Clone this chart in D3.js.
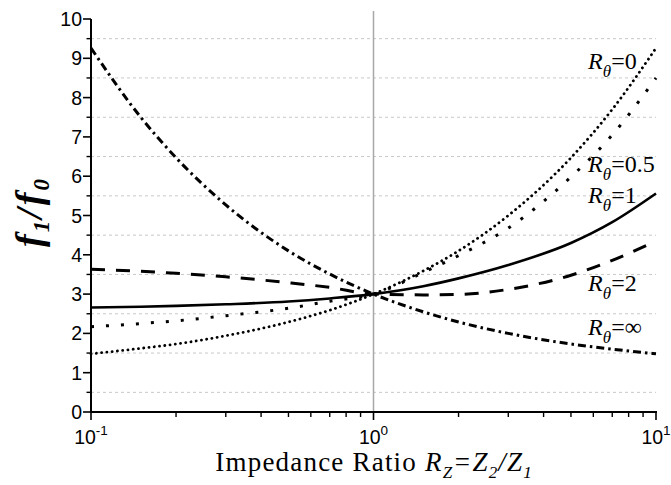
<!DOCTYPE html>
<html>
<head>
<meta charset="utf-8">
<script src="https://cdn.jsdelivr.net/npm/d3@7"></script>
</head>
<body style="margin:0">
<svg id="chart" width="671" height="485"></svg>
<script>
// Impedance ratio samples (log axis) and f1/f0 for each length ratio R_theta
const impedanceRatio = [0.1, 0.15, 0.2, 0.3, 0.5, 0.7, 1, 1.5, 2, 3, 5, 7, 10];
const ratioTheta0   = [1.48, 1.62, 1.73, 1.94, 2.29, 2.59, 3.0, 3.59, 4.10, 5.00, 6.47, 7.70, 9.26];
const ratioTheta05  = [2.17, 2.25, 2.32, 2.45, 2.64, 2.82, 3.0, 3.55, 3.98, 4.68, 5.98, 7.05, 8.50];
const ratioTheta1   = [2.66, 2.68, 2.70, 2.74, 2.81, 2.89, 3.0, 3.20, 3.40, 3.74, 4.30, 4.83, 5.56];
const ratioTheta2   = [3.63, 3.58, 3.53, 3.44, 3.29, 3.17, 3.0, 2.98, 2.99, 3.12, 3.48, 3.86, 4.35];
const ratioThetaInf = [9.26, 7.50, 6.47, 5.27, 4.10, 3.51, 3.0, 2.55, 2.29, 2.00, 1.73, 1.60, 1.48];

const xMajorTicks = [0.1, 1, 10];
const xMajorExponents = ["-1", "0", "1"];
const yTicks = [0, 1, 2, 3, 4, 5, 6, 7, 8, 9, 10];
const yHalfTicks = [0.5, 1.5, 2.5, 3.5, 4.5, 5.5, 6.5, 7.5, 8.5, 9.5];

// label text for each curve and where its label sits (x, y in data units)
const curveLabels = ["0", "0.5", "1", "2", "\u221E"];
const labelX = [5.75, 5.75, 5.75, 5.75, 5.75];
const labelY = [8.73, 6.11, 5.32, 3.09, 1.96];

const series = [
  { values: ratioTheta0,   dash: "0.1,5.2", width: 2.8, cap: "round" },
  { values: ratioTheta05,  dash: "3,12",    width: 3,   cap: "butt" },
  { values: ratioTheta1,   dash: null,      width: 2.6, cap: "butt" },
  { values: ratioTheta2,   dash: "14,11",   width: 3,   cap: "butt" },
  { values: ratioThetaInf, dash: "8,4,2.5,4", width: 3, cap: "butt" }
];

const SERIF = "\"Liberation Serif\"";
const SANS = "\"Liberation Sans\"";

const svg = d3.select("#chart");
const margin = { left: 91, right: 15, top: 19, bottom: 73 };
const W = 671, H = 485;

const x = d3.scaleLog().domain([0.1, 10]).range([margin.left, W - margin.right]);
const y = d3.scaleLinear().domain([0, 10]).range([H - margin.bottom, margin.top]);

// Lay out a run of differently styled pieces as separate <text> nodes,
// measuring each piece so they sit side by side. anchor: start|middle|end
function textRuns(parent, x0, y0, anchor, runs) {
  const g = parent.append("g");
  let cx = 0;
  runs.forEach(r => {
    const t = g.append("text")
      .attr("x", cx).attr("y", r.dy || 0)
      .style("font-family", r.family)
      .style("font-size", r.size + "px")
      .style("font-style", r.italic ? "italic" : "normal")
      .style("font-weight", r.bold ? "bold" : "normal")
      .style("letter-spacing", (r.spacing || 0) + "px")
      .text(r.text);
    cx += t.node().getComputedTextLength() + (r.gap || 0);
  });
  const shift = anchor === "middle" ? -cx / 2 : anchor === "end" ? -cx : 0;
  g.attr("transform", `translate(${x0 + shift},${y0})`);
  return g;
}

// dashed horizontal grid at half units
svg.append("g").selectAll("line").data(yHalfTicks).join("line")
  .attr("x1", x(0.1)).attr("x2", x(10))
  .attr("y1", d => y(d)).attr("y2", d => y(d))
  .attr("stroke", "#c8c8c8").attr("stroke-width", 1)
  .attr("stroke-dasharray", "3,3");

// reference line at R_Z = 1
svg.append("line")
  .attr("x1", x(1)).attr("x2", x(1))
  .attr("y1", y(10) - 8).attr("y2", y(0))
  .attr("stroke", "#a8a8a8").attr("stroke-width", 1.5);

// curves
const line = d3.line()
  .x((d, i) => x(impedanceRatio[i]))
  .y(d => y(d))
  .curve(d3.curveMonotoneX);

svg.append("g").selectAll("path").data(series).join("path")
  .attr("d", d => line(d.values))
  .attr("fill", "none")
  .attr("stroke", "#000")
  .attr("stroke-width", d => d.width)
  .attr("stroke-linecap", d => d.cap)
  .attr("stroke-dasharray", d => d.dash);

// left axis
const yAxis = svg.append("g");
yAxis.append("line")
  .attr("x1", x(0.1)).attr("x2", x(0.1))
  .attr("y1", y(10)).attr("y2", y(0) + 1)
  .attr("stroke", "#000").attr("stroke-width", 2);
yAxis.selectAll(".maj").data(yTicks).join("line").attr("class", "maj")
  .attr("x1", x(0.1) - 8).attr("x2", x(0.1))
  .attr("y1", d => y(d)).attr("y2", d => y(d))
  .attr("stroke", "#000").attr("stroke-width", 1.6);
yAxis.selectAll(".min").data(yHalfTicks).join("line").attr("class", "min")
  .attr("x1", x(0.1) - 4.5).attr("x2", x(0.1))
  .attr("y1", d => y(d)).attr("y2", d => y(d))
  .attr("stroke", "#000").attr("stroke-width", 1.4);
yAxis.selectAll("text").data(yTicks).join("text")
  .style("font-family", SANS).style("font-size", "19.5px")
  .attr("x", x(0.1) - 9).attr("y", d => y(d) + 7)
  .attr("text-anchor", "end")
  .text(d => d);

// bottom axis
const xAxis = svg.append("g");
xAxis.append("line")
  .attr("x1", x(0.1) - 1).attr("x2", x(10) + 1)
  .attr("y1", y(0)).attr("y2", y(0))
  .attr("stroke", "#000").attr("stroke-width", 2);
xAxis.selectAll(".maj").data(xMajorTicks).join("line").attr("class", "maj")
  .attr("x1", d => x(d)).attr("x2", d => x(d))
  .attr("y1", y(0)).attr("y2", y(0) + 8)
  .attr("stroke", "#000").attr("stroke-width", 1.6);
const xMinor = [];
[0.1, 1].forEach(base => { for (let k = 2; k <= 9; k++) xMinor.push(base * k); });
xAxis.selectAll(".min").data(xMinor).join("line").attr("class", "min")
  .attr("x1", d => x(d)).attr("x2", d => x(d))
  .attr("y1", y(0)).attr("y2", y(0) + 5)
  .attr("stroke", "#000").attr("stroke-width", 1.4);
xMajorTicks.forEach((d, i) => {
  textRuns(xAxis, x(d), y(0) + 32, "middle", [
    { text: "10", family: SANS, size: 19.5 },
    { text: xMajorExponents[i], family: SANS, size: 13.5, dy: -9 }
  ]);
});

// x title: Impedance Ratio R_Z = Z_2 / Z_1
textRuns(svg, x(1), 471, "middle", [
  { text: "Impedance Ratio\u00A0", family: SERIF, size: 27, spacing: 1.2 },
  { text: "R", family: SERIF, size: 27, italic: true, spacing: 1.2 },
  { text: "Z", family: SERIF, size: 17, italic: true, dy: 7, spacing: 1 },
  { text: "=Z", family: SERIF, size: 27, italic: true, spacing: 1.2 },
  { text: "2", family: SERIF, size: 17, italic: true, dy: 7, spacing: 1 },
  { text: "/Z", family: SERIF, size: 27, italic: true, spacing: 1.2 },
  { text: "1", family: SERIF, size: 17, italic: true, dy: 7 }
]);

// y title: f_1 / f_0, rotated
const yTitle = svg.append("g").attr("transform", "translate(42,213) rotate(-90)");
textRuns(yTitle, 0, 0, "middle", [
  { text: "f", family: SERIF, size: 38, italic: true, bold: true, gap: 2 },
  { text: "1", family: SERIF, size: 23, italic: true, bold: true, dy: 7, gap: 2 },
  { text: "/", family: SERIF, size: 38, italic: true, bold: true, gap: 3 },
  { text: "f", family: SERIF, size: 38, italic: true, bold: true, gap: 2 },
  { text: "0", family: SERIF, size: 23, italic: true, bold: true, dy: 7 }
]);

// curve labels
curveLabels.forEach((d, i) => {
  textRuns(svg, x(labelX[i]), y(labelY[i]), "start", [
    { text: "R", family: SERIF, size: 24, italic: true },
    { text: "\u03B8", family: SERIF, size: 17, italic: true, dy: 8 },
    { text: "=" + d, family: SERIF, size: 24 }
  ]);
});
</script>
</body>
</html>
